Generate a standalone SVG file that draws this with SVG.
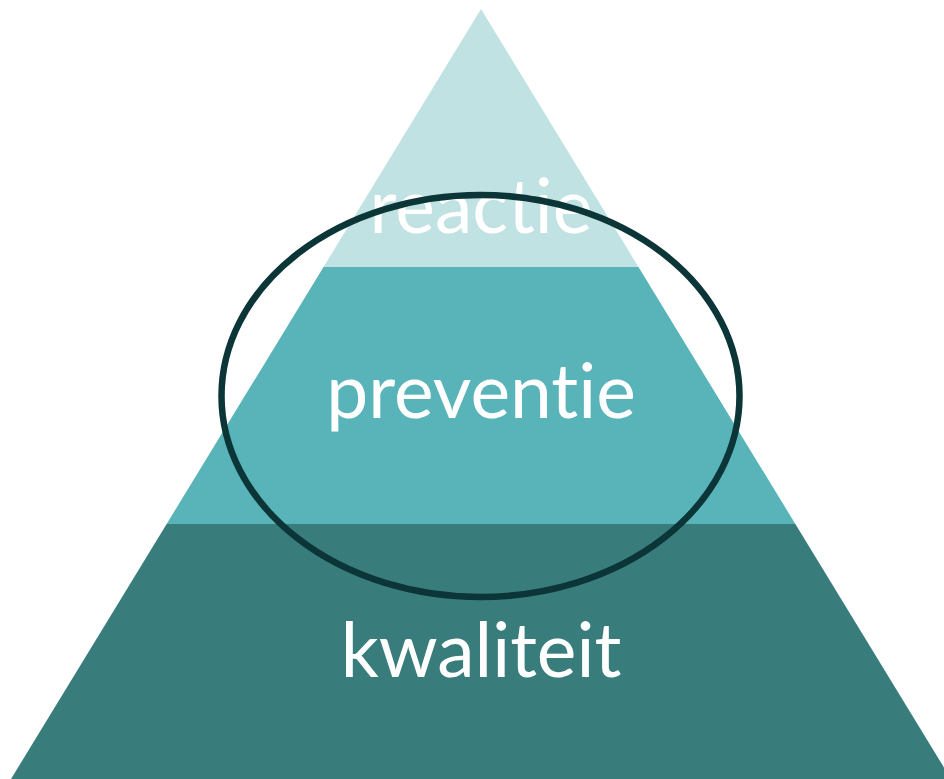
<svg xmlns="http://www.w3.org/2000/svg" width="944" height="779" viewBox="0 0 944 779">
<style>
.lbl{font-family:Lato,"Liberation Sans",sans-serif;font-size:75px;fill:#ffffff;text-anchor:middle;font-variant-ligatures:none;font-feature-settings:"liga" 0}
</style>
<defs>
<clipPath id="tri"><polygon points="481,9 11,779 951,779"/></clipPath>
</defs>
<rect width="944" height="779" fill="#ffffff"/>
<g clip-path="url(#tri)">
<g id="reactie"><rect x="0" y="0" width="944" height="267" fill="#c1e2e3"/></g>
<g id="preventie"><rect x="0" y="267" width="944" height="257" fill="#58b4b8"/></g>
<g id="kwaliteit"><rect x="0" y="524" width="944" height="255" fill="#387d7c"/></g>
</g>
<g id="labels">
<text class="lbl" x="481" y="233">reactie</text>
<text class="lbl" x="481" y="418">preventie</text>
<text class="lbl" x="481" y="677">kwaliteit</text>
</g>
<g id="connectors">
<ellipse id="focus" cx="480.5" cy="396" rx="259" ry="201" fill="none" stroke="#0b3536" stroke-width="6.5"/>
</g>
</svg>
